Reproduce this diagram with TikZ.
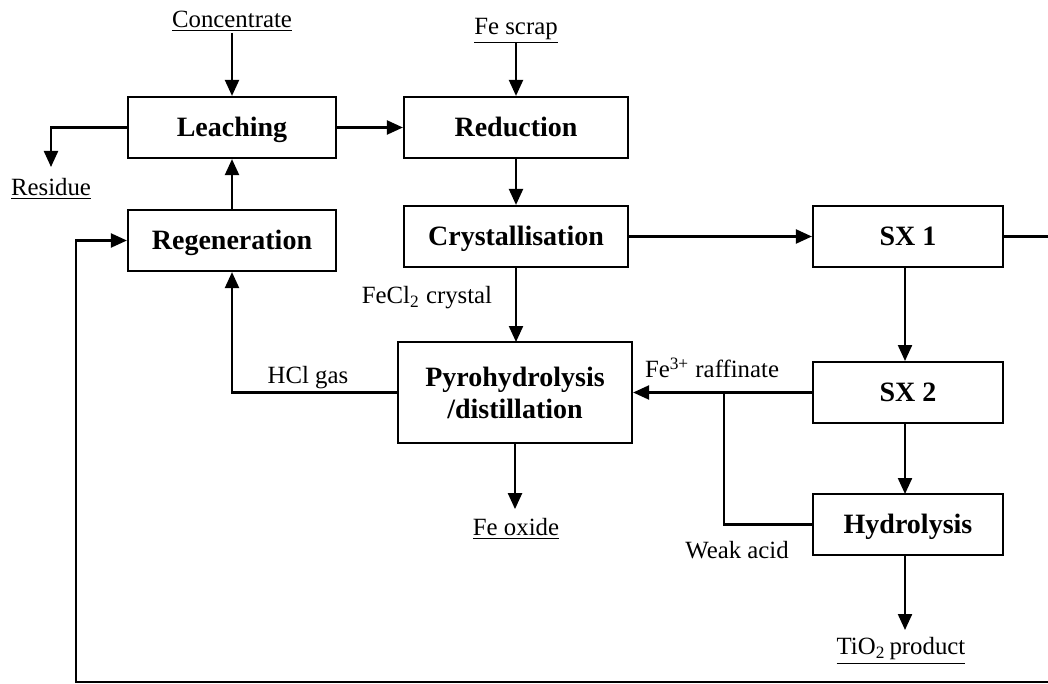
\documentclass[tikz,border=0pt]{standalone}
\usepackage{fontspec}
\setmainfont{Liberation Serif}
\usetikzlibrary{arrows.meta}
\begin{document}
\begin{tikzpicture}[x=0.5pt,y=-0.5pt,
  proc/.style={draw, line width=1.1pt, inner sep=0pt, minimum height=30.5pt, align=center,
    font=\fontsize{14}{16}\selectfont\bfseries},
  one/.style={text height=9.4pt, text depth=0pt},
  lbl/.style={inner sep=0pt, font=\fontsize{12.4}{14}\selectfont},
  flow/.style={line width=1.1pt, -{Triangle[length=8pt,width=7pt]}},
  line/.style={line width=1.1pt}]
\useasboundingbox (0,0) rectangle (1048,684);
% boxes
\node[proc, one, minimum width=104pt] (leach) at (232,127.5) {Leaching};
\node[proc, one, minimum width=112pt] (red) at (516,127.5) {Reduction};
\node[proc, one, minimum width=104pt] (regen) at (232,240.5) {Regeneration};
\node[proc, one, minimum width=112pt] (cryst) at (516,236.5) {Crystallisation};
\node[proc, one, minimum width=95pt] (sx1) at (908,236.5) {SX 1};
\node[proc, minimum width=117pt, minimum height=50.5pt] (pyro) at (515,392.5) {Pyrohydrolysis\\/distillation};
\node[proc, one, minimum width=95pt] (sx2) at (908,392.5) {SX 2};
\node[proc, one, minimum width=95pt] (hyd) at (908,524.5) {Hydrolysis};
% labels
\node[lbl] (conc) at (232,21) {\underline{Concentrate}};
\node[lbl] (scrap) at (516,31) {\underline{Fe scrap}};
\node[lbl] (resid) at (51,189) {\underline{Residue}};
\node[lbl] (feox) at (516,529) {\underline{Fe oxide}};
\node[lbl] (tio) at (901,651) {\underline{TiO\textsubscript{2}\,product}};
\node[lbl] (fecl) at (427,298) {FeCl\textsubscript{2} crystal};
\node[lbl] (hcl) at (308,378) {HCl gas};
\node[lbl] (raff) at (712,368) {Fe\textsuperscript{3+} raffinate};
\node[lbl] (weak) at (737,550) {Weak acid};
% coordinates
\coordinate (j) at (724,392.5);
\coordinate (rEdge) at (1049,236.5);
\coordinate (bEdge) at (1049,682);
\coordinate (bl) at (76,682);
% connectors
\draw[flow] (232,33) -- (leach.north);
\draw[flow] (516,43) -- (red.north);
\draw[flow] (leach.west) -| (51,167);
\draw[flow] (leach.east) -- (red.west);
\draw[flow] (red.south) -- (cryst.north);
\draw[flow] (regen.north) -- (leach.south);
\draw[flow] (cryst.east) -- (sx1.west);
\draw[flow] (cryst.south) -- (516,342);
\draw[flow] (pyro.west) -| (regen.south);
\draw[flow] (905,267) -- (905,361);
\draw[flow] (sx2.west) -- (pyro.east);
\draw[line] (j) |- (hyd.west);
\draw[flow] (905,423) -- (905,494);
\draw[flow] (905,555) -- (905,630);
\draw[flow] (pyro.south) -- ++(0,65);
\draw[line] (sx1.east) -- (rEdge);
\draw[flow] (bEdge) -- (bl) |- (regen.west);
\end{tikzpicture}
\end{document}
